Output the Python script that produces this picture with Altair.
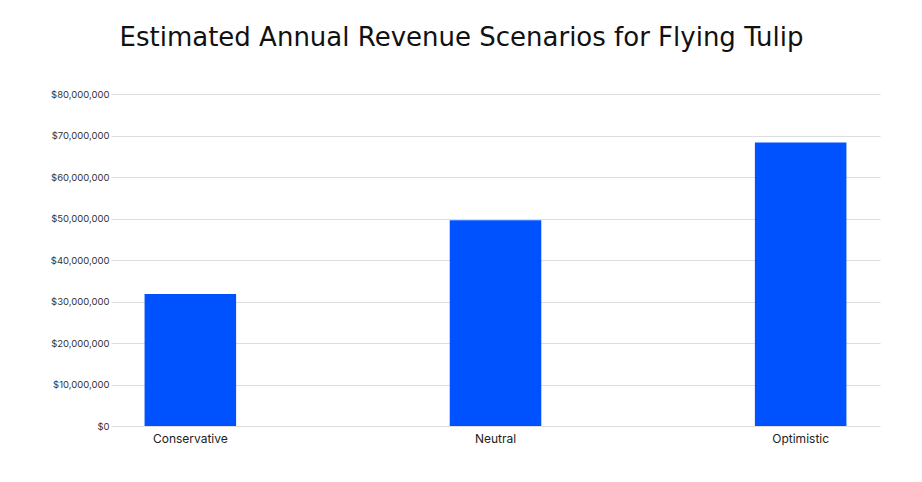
import altair as alt
import pandas as pd

scenarios = ["Conservative", "Neutral", "Optimistic"]
revenue = [31800000, 49600000, 68300000]

df = pd.DataFrame({"Scenario": scenarios, "Revenue": revenue})

FONT = "Inter"

chart = alt.Chart(df).mark_bar(color="#0052FF").encode(
    x=alt.X("Scenario:N", sort=scenarios, title=None,
            scale=alt.Scale(paddingInner=0.7, paddingOuter=0.11),
            axis=alt.Axis(labelAngle=0, ticks=False, domain=False, labelFontSize=12,
                          labelColor="#222222", labelFont=FONT, labelPadding=7)),
    y=alt.Y("Revenue:Q", title=None,
            scale=alt.Scale(domain=[0, 80000000]),
            axis=alt.Axis(values=[i * 10000000 for i in range(9)], format="$,.0f",
                          ticks=False, domain=False, labelFontSize=9.5, labelColor="#333333",
                          labelFont=FONT, labelPadding=2, gridColor="#dddddd")),
).properties(
    width=769, height=332,
    padding={"left": 103, "top": 86, "right": 34, "bottom": 48},
    autosize=alt.AutoSizeParams(type="none"),
    background="white",
    title=alt.TitleParams("Estimated Annual Revenue Scenarios for Flying Tulip",
                          font="DejaVu Sans", fontSize=26, fontWeight="normal", color="#111111",
                          anchor="middle", dx=-34, offset=38),
).configure_view(strokeWidth=0)

chart.save("out.html", embed_options={"renderer": "svg", "actions": False})
